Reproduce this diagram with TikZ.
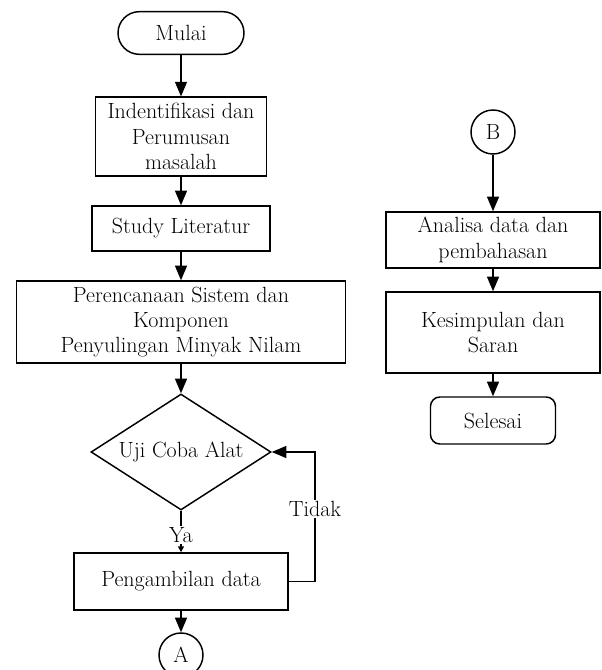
\documentclass[tikz,border=0pt]{standalone}
\usepackage{tikz}
\usetikzlibrary{positioning,shapes.geometric,arrows.meta}

\tikzset{
  kotak/.style={draw, line width=1.1pt, rectangle, align=center, inner sep=1.5pt},
  terminal/.style={draw, line width=1.1pt, rectangle, align=center, inner sep=1.5pt},
  keputusan/.style={draw, line width=1.1pt, diamond, aspect=1.55, inner sep=0pt, minimum width=135pt, minimum height=87pt},
  konektor/.style={draw, line width=1.1pt, circle, minimum size=33pt, inner sep=0pt},
  panah/.style={line width=1.1pt, -{Triangle[length=11pt,width=9pt]}},
  panahkecil/.style={line width=1.1pt, -{Triangle[length=4.5pt,width=4.5pt]}}
}

\begin{document}
\begin{tikzpicture}[x=0.75pt, y=-0.75pt, font=\fontsize{16.5}{19}\selectfont]

\useasboundingbox (0,0) rectangle (601,670);

% Left column
\node[terminal, rounded corners=16pt, minimum width=94.5pt, minimum height=32pt] (mulai) at (181,33) {Mulai};
\node[kotak, minimum width=128pt, minimum height=59pt] (ident) at (181,136.5) {Indentifikasi dan\\Perumusan\\masalah};
\node[kotak, minimum width=133.5pt, minimum height=33.75pt] (studi) at (181,228.5) {Study Literatur};
\node[kotak, minimum width=246.75pt, minimum height=61.5pt] (rencana) at (181,322) {Perencanaan Sistem dan\\Komponen\\Penyulingan Minyak Nilam};
\node[keputusan] (uji) at (181,452) {Uji Coba Alat};
\node[kotak, minimum width=160.5pt, minimum height=42.75pt] (ambil) at (181,581.5) {Pengambilan data};
\node[konektor] (A) at (181,655) {A};
\coordinate (balik) at (315,452);

% Right column
\node[konektor] (B) at (493,132) {B};
\node[kotak, minimum width=160.5pt, minimum height=42pt] (analisa) at (493,240) {Analisa data dan\\pembahasan};
\node[kotak, minimum width=160.5pt, minimum height=60.75pt] (simpul) at (493,332.5) {Kesimpulan dan\\Saran};
\node[terminal, rounded corners=7pt, minimum width=93.75pt, minimum height=35.25pt] (selesai) at (493,420.5) {Selesai};

% Arrows
\draw[panah] (mulai) -- (ident);
\draw[panah] (ident) -- (studi);
\draw[panah] (studi) -- (rencana);
\draw[panah] (rencana) -- (uji);
\draw[panahkecil] (uji) -- node[pos=0.58, fill=white, inner sep=1pt] {Ya} (ambil);
\draw[panah] (ambil.east) -| node[pos=0.78, fill=white, inner sep=1pt] {Tidak} (balik) -- (uji.east);
\draw[panah] (ambil) -- (A);

\draw[panah] (B) -- (analisa);
\draw[panah] (analisa) -- (simpul);
\draw[panah] (simpul) -- (selesai);

\end{tikzpicture}
\end{document}
